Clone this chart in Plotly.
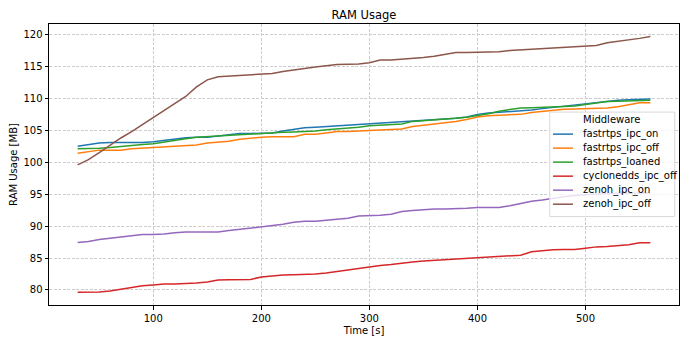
import plotly.graph_objects as go

time_s = list(range(30, 561, 10))

series_names = ["fastrtps_ipc_on", "fastrtps_ipc_off", "fastrtps_loaned",
                "cyclonedds_ipc_off", "zenoh_ipc_on", "zenoh_ipc_off"]

fastrtps_ipc_on = [102.5, 102.8, 103.0, 103.1, 103.1, 103.05, 103.1, 103.2, 103.4, 103.6,
                   103.85, 103.9, 103.9, 104.1, 104.3, 104.5, 104.5, 104.5, 104.6, 104.9,
                   105.2, 105.4, 105.5, 105.6, 105.7, 105.8, 105.9, 106.0, 106.1, 106.2,
                   106.35, 106.4, 106.5, 106.6, 106.75, 106.9, 107.1, 107.5, 107.7, 107.8,
                   107.9, 108.0, 108.2, 108.4, 108.6, 108.8, 109.0, 109.1, 109.4, 109.6,
                   109.7, 109.8, 109.9, 109.9]
fastrtps_ipc_off = [101.4, 101.7, 101.9, 101.9, 101.9, 102.1, 102.2, 102.3, 102.4, 102.5,
                    102.6, 102.7, 103.0, 103.1, 103.3, 103.6, 103.8, 103.9, 104.0, 104.0,
                    104.0, 104.4, 104.4, 104.6, 104.8, 104.8, 104.9, 105.0, 105.05, 105.1,
                    105.2, 105.6, 105.8, 105.95, 106.1, 106.4, 106.7, 107.1, 107.3, 107.4,
                    107.45, 107.5, 107.8, 108.0, 108.2, 108.3, 108.35, 108.4, 108.45, 108.5,
                    108.7, 109.0, 109.3, 109.3]
fastrtps_loaned = [102.1, 102.1, 102.2, 102.3, 102.5, 102.7, 102.8, 102.9, 103.2, 103.5,
                   103.7, 103.9, 104.0, 104.2, 104.3, 104.4, 104.5, 104.5, 104.6, 104.7,
                   104.75, 104.8, 104.9, 105.1, 105.2, 105.3, 105.5, 105.7, 105.8, 105.9,
                   106.0, 106.4, 106.5, 106.7, 106.8, 106.9, 107.05, 107.3, 107.6, 108.0,
                   108.3, 108.5, 108.55, 108.65, 108.7, 108.75, 108.8, 109.0, 109.3, 109.5,
                   109.55, 109.6, 109.65, 109.7]
cyclonedds_ipc_off = [79.65, 79.65, 79.7, 79.85, 80.15, 80.4, 80.65, 80.8, 80.95, 80.95,
                      81.0, 81.1, 81.25, 81.55, 81.6, 81.6, 81.65, 82.05, 82.25, 82.35,
                      82.4, 82.4, 82.5, 82.65, 82.9, 83.2, 83.35, 83.7, 83.85, 84.0,
                      84.25, 84.4, 84.55, 84.65, 84.8, 84.95, 85.0, 85.05, 85.2, 85.35,
                      85.4, 85.45, 86.0, 86.2, 86.3, 86.35, 86.35, 86.55, 86.75, 86.8,
                      86.9, 87.1, 87.4, 87.4]
zenoh_ipc_on = [87.45, 87.6, 87.9, 88.1, 88.25, 88.4, 88.7, 88.7, 88.75, 88.95,
                89.1, 89.1, 89.1, 89.1, 89.3, 89.5, 89.7, 89.85, 90.1, 90.3,
                90.6, 90.75, 90.75, 90.9, 91.1, 91.25, 91.6, 91.6, 91.7, 91.85,
                92.3, 92.45, 92.6, 92.7, 92.7, 92.7, 92.8, 92.9, 92.9, 92.9,
                93.2, 93.6, 93.9, 94.1, 94.4, 94.6, 94.8, 94.95, 95.05, 95.1,
                95.1, 95.15, 95.2, 95.2]
zenoh_ipc_off = [99.6, 100.4, 101.5, 102.7, 103.8, 104.8, 105.9, 107.0, 108.2, 109.3,
                 110.3, 111.8, 112.9, 113.4, 113.5, 113.6, 113.7, 113.8, 113.9, 114.2,
                 114.5, 114.7, 114.9, 115.1, 115.3, 115.35, 115.4, 115.6, 116.0, 116.0,
                 116.1, 116.3, 116.4, 116.6, 116.9, 117.2, 117.2, 117.25, 117.25, 117.3,
                 117.5, 117.6, 117.8, 117.9, 118.0, 118.1, 118.2, 118.2, 118.3, 118.7,
                 118.9, 119.2, 119.4, 119.7]

series_values = [fastrtps_ipc_on, fastrtps_ipc_off, fastrtps_loaned,
                 cyclonedds_ipc_off, zenoh_ipc_on, zenoh_ipc_off]
colors = ["#1f77b4", "#ff7f0e", "#2ca02c", "#d62728", "#9467bd", "#8c564b"]

FONT = "DejaVu Sans"

fig = go.Figure()
for name, vals, col in zip(series_names, series_values, colors):
    fig.add_trace(go.Scatter(x=time_s, y=vals, mode="lines", name=name,
                             line=dict(color=col, width=1.5), showlegend=False))

# manual matplotlib-style legend (center right)
shapes = [dict(type="rect", xref="paper", yref="paper", x0=0.7948, x1=0.9932,
               y0=0.3146, y1=0.6865, layer="above",
               line=dict(color="#d9d9d9", width=1), fillcolor="rgba(255,255,255,0.8)")]
annotations = [dict(text="Middleware", xref="paper", yref="paper", x=0.8927, y=0.659,
                    xanchor="center", yanchor="middle", showarrow=False,
                    font=dict(family=FONT, size=10, color="black"))]
row_y = [0.6081, 0.5582, 0.5084, 0.4585, 0.4086, 0.3587]
for name, col, yy in zip(series_names, colors, row_y):
    shapes.append(dict(type="line", xref="paper", yref="paper", x0=0.800, x1=0.8317,
                       y0=yy, y1=yy, layer="above", line=dict(color=col, width=1.5)))
    annotations.append(dict(text=name, xref="paper", yref="paper", x=0.845, y=yy,
                            xanchor="left", yanchor="middle", showarrow=False,
                            font=dict(family=FONT, size=10, color="black")))

axis_common = dict(
    showline=True, linecolor="black", linewidth=1, mirror=True,
    ticks="outside", ticklen=3.5, tickwidth=1, tickcolor="black",
    showgrid=True, gridcolor="#cccccc", gridwidth=0.8, griddash="3px,1.5px",
    zeroline=False, tickfont=dict(family=FONT, size=10, color="black"),
)

fig.update_layout(
    width=690, height=345, autosize=False,
    margin=dict(l=49, r=11, t=24, b=40),
    paper_bgcolor="white", plot_bgcolor="white",
    title=dict(text="RAM Usage", x=0.5, xref="paper", xanchor="center",
               y=1 - 15 / 345, yref="container", yanchor="middle",
               font=dict(family=FONT, size=11.5, color="black")),
    xaxis=dict(range=[3.5, 586.5], tickvals=[100, 200, 300, 400, 500],
               title=dict(text="Time [s]", standoff=4,
                          font=dict(family=FONT, size=10, color="black")),
               **axis_common),
    yaxis=dict(range=[77.65, 121.65], tickvals=[80, 85, 90, 95, 100, 105, 110, 115, 120],
               title=dict(text="RAM Usage [MB]", standoff=3,
                          font=dict(family=FONT, size=10, color="black")),
               **axis_common),
    shapes=shapes, annotations=annotations, showlegend=False,
)

fig.write_html("out.html")
